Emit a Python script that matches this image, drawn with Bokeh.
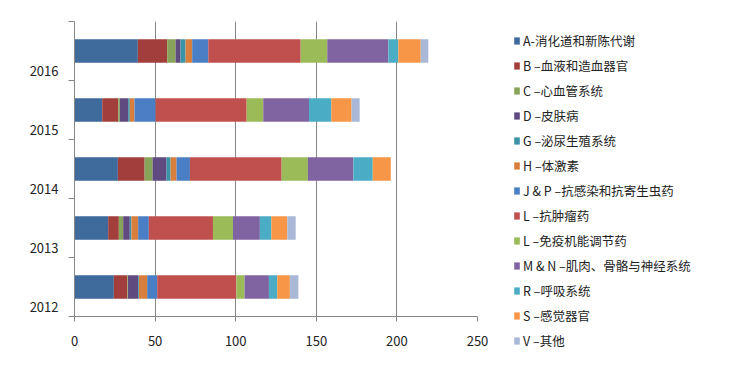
from bokeh.plotting import figure
from bokeh.layouts import row
from bokeh.models import ColumnDataSource, Range1d, FixedTicker, Legend, LegendItem
from bokeh.embed import file_html
from bokeh.resources import INLINE

years = ["2012", "2013", "2014", "2015", "2016"]
year_pos = [0, 1, 2, 3, 4]
label_pos = [0.16, 1.16, 2.16, 3.16, 4.16]

labels = ["A-消化道和新陈代谢", "B –血液和造血器官", "C –心血管系统", "D –皮肤病",
          "G –泌尿生殖系统", "H –体激素", "J & P –抗感染和抗寄生虫药", "L –抗肿瘤药",
          "L –免疫机能调节药", "M & N –肌肉、骨骼与神经系统", "R –呼吸系统", "S –感觉器官", "V –其他"]

A = [24.4, 20.9, 26.9, 17.2, 39.3]
B = [8.4, 6.6, 16.6, 9.9, 18.2]
C = [0.4, 2.7, 4.9, 1.0, 5.2]
D = [6.3, 4.1, 8.7, 5.2, 3.1]
G = [0.5, 1.0, 2.5, 1.0, 3.1]
H = [5.1, 4.2, 3.7, 2.9, 4.1]
JP = [6.2, 6.6, 8.3, 13.1, 10.0]
L = [49.1, 39.8, 56.9, 56.5, 57.3]
LI = [5.1, 12.4, 16.3, 10.3, 16.5]
MN = [15.1, 16.7, 28.2, 28.4, 37.9]
R = [5.2, 7.1, 12.0, 13.8, 6.2]
S = [7.8, 9.9, 11.2, 12.6, 13.9]
V = [5.3, 5.2, 0.0, 5.0, 4.7]

x_ticks = [0, 50, 100, 150, 200, 250]

colors = ["#3E6A9C", "#A23E3B", "#88A45A", "#5F4B80", "#3A93A6", "#D97F3D",
          "#4A7EC5", "#C0504D", "#9BBB59", "#8064A2", "#4BACC6", "#F79646", "#A9B8D6"]

keys = ["A", "B", "C", "D", "G", "H", "JP", "L", "LI", "MN", "R", "S", "V"]
data = dict(y=[p + 0.5 for p in year_pos], A=A, B=B, C=C, D=D, G=G, H=H, JP=JP, L=L,
            LI=LI, MN=MN, R=R, S=S, V=V)
source = ColumnDataSource(data)

font = "Noto Sans CJK SC"
grey = "#868686"

# ---- main chart ----
p = figure(width=503, height=367, output_backend="svg", toolbar_location=None,
           x_range=Range1d(0, 250), y_range=Range1d(0, 5),
           min_border_left=74, min_border_right=26, min_border_top=21, min_border_bottom=51)
p.outline_line_color = None
p.background_fill_color = "white"
p.border_fill_color = "white"

p.hbar_stack(keys, y="y", height=0.4, color=colors, source=source, line_width=0)

p.xaxis.ticker = FixedTicker(ticks=x_ticks)
p.xaxis.axis_line_color = grey
p.xaxis.major_tick_line_color = grey
p.xaxis.major_tick_out = 5
p.xaxis.major_tick_in = 0
p.xaxis.minor_tick_line_color = None
p.xaxis.major_label_standoff = 14
p.xaxis.major_label_text_font = font
p.xaxis.major_label_text_font_size = "13px"
p.xaxis.major_label_text_color = "#222222"

p.yaxis.ticker = FixedTicker(ticks=label_pos, minor_ticks=[0, 1, 2, 3, 4, 5])
p.yaxis.major_label_overrides = {lp: yr for lp, yr in zip(label_pos, years)}
p.yaxis.axis_line_color = grey
p.yaxis.major_tick_line_color = None
p.yaxis.major_tick_out = 0
p.yaxis.major_tick_in = 0
p.yaxis.minor_tick_line_color = grey
p.yaxis.minor_tick_out = 6
p.yaxis.minor_tick_in = 0
p.yaxis.major_label_standoff = 10
p.yaxis.major_label_text_font = font
p.yaxis.major_label_text_font_size = "13px"
p.yaxis.major_label_text_color = "#222222"

p.xgrid.ticker = FixedTicker(ticks=x_ticks)
p.xgrid.grid_line_color = grey
p.ygrid.grid_line_color = None

# ---- legend panel (same series, kept out of view; only the legend shows) ----
lg = figure(width=228, height=367, output_backend="svg", toolbar_location=None,
            x_axis_type=None, y_axis_type=None,
            min_border_left=0, min_border_right=0, min_border_top=21, min_border_bottom=51,
            x_range=Range1d(-2, -1), y_range=Range1d(0, 5))
lg.outline_line_color = None
lg.background_fill_color = "white"
lg.border_fill_color = "white"
lg.xgrid.visible = False
lg.ygrid.visible = False

swatches = lg.hbar_stack(keys, y="y", height=0.4, color=colors, source=source, line_width=0)
items = [LegendItem(label=lab, renderers=[r]) for lab, r in zip(labels, swatches)]
legend = Legend(items=items, location="top_left", border_line_color=None,
                background_fill_alpha=0, padding=0, margin=10, spacing=6,
                glyph_width=7, glyph_height=9, label_height=18, label_standoff=3,
                label_text_font=font, label_text_font_size="12.5px",
                label_text_color="#222222")
lg.add_layout(legend, "left")

open("out.html", "w").write(file_html(row(p, lg), INLINE))
